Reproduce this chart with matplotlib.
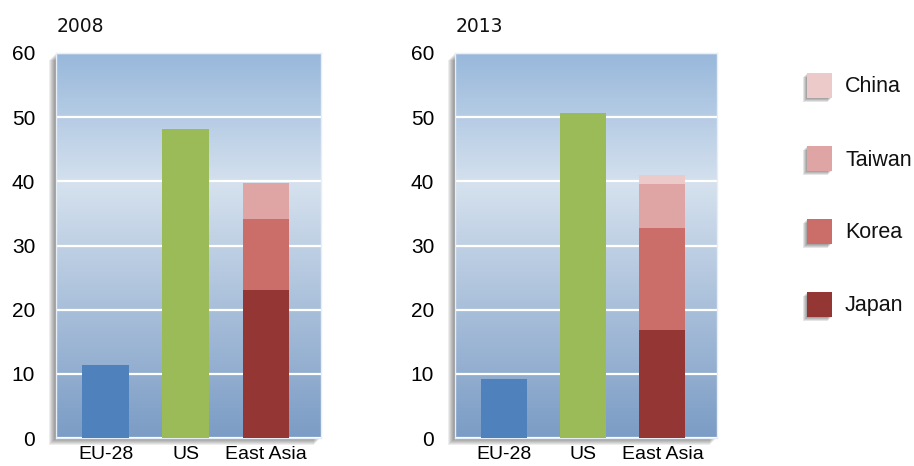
#!/usr/bin/env python3
# -*- coding: utf-8 -*-
import numpy as np
import matplotlib
matplotlib.use('Agg')
import matplotlib.pyplot as plt
from matplotlib.colors import LinearSegmentedColormap
from matplotlib.patches import Rectangle

#!----------------------------------------------------------------------
#!	DATA
#!----------------------------------------------------------------------
years = ['2008', '2013']
categories = ['EU-28', 'US', 'East Asia']
eu28 = [11.4, 9.2]
us = [48.1, 50.6]
japan = [23.0, 16.8]
korea = [11.1, 15.9]
taiwan = [5.6, 6.9]
china = [0.0, 1.4]

asia_names = ['Japan', 'Korea', 'Taiwan', 'China']
asia_vals = [japan, korea, taiwan, china]
asia_cols = ['#943634', '#cb6e69', '#dfa5a5', '#edcaca']
eu_col = '#4f81bd'
us_col = '#9bbb59'

yticks = [0, 10, 20, 30, 40, 50, 60]

W, H = 914, 466
# axes boxes in pixels: left, bottom(from top), right
boxes = [(56, 438, 321), (455, 438, 717)]
top_px = 53

#!----------------------------------------------------------------------
#!	PLOT
#!----------------------------------------------------------------------
fig = plt.figure(figsize=(W/100, H/100), dpi=100)
fig.patch.set_facecolor('white')

bg = LinearSegmentedColormap.from_list('bg', [(0.0, '#7b9cc5'), (0.66, '#d5e1ee'), (1.0, '#98b8db')])
grad = np.linspace(0, 1, 256).reshape(-1, 1)

for i, (x0, y0, x1) in enumerate(boxes):
	rect = [x0/W, (H - y0)/H, (x1 - x0)/W, (y0 - top_px)/H]

	# soft drop shadow
	for k in range(7):
		off = 1 + k
		fig.patches.append(Rectangle(((x0 - off)/W, (H - y0 - off)/H), (x1 - x0)/W, (y0 - top_px)/H,
			transform=fig.transFigure, facecolor='black', edgecolor='none', alpha=0.07, zorder=0))

	ax = fig.add_axes(rect, zorder=2)
	ax.imshow(grad, cmap=bg, origin='lower', aspect='auto', extent=[0, 1, 0, 1],
		transform=ax.transAxes, zorder=0)

	x = np.arange(len(categories))
	w = 0.58
	ax.bar(x[0], eu28[i], w, color=eu_col, zorder=3)
	ax.bar(x[1], us[i], w, color=us_col, zorder=3)
	bottom = 0.0
	for vals, col in zip(asia_vals, asia_cols):
		ax.bar(x[2], vals[i], w, bottom=bottom, color=col, zorder=3)
		bottom += vals[i]

	ax.set_xlim(-0.62, 2.69)
	ax.set_ylim(0, 60)
	ax.set_yticks(yticks)
	ax.yaxis.grid(True, color='white', lw=1.6, zorder=1)
	ax.set_axisbelow(True)
	ax.set_xticks(x)
	ax.set_xticklabels(categories, family='Liberation Sans', fontsize=14)
	ax.set_yticklabels([str(t) for t in yticks], family='Liberation Sans', fontsize=15)
	ax.tick_params(axis='y', length=0, pad=15)
	ax.tick_params(axis='x', length=0, pad=6)
	for s in ax.spines.values():
		s.set_color('#e8eef6')
		s.set_linewidth(1.0)

	fig.text((x0 + 1)/W, 1 - 26/H, years[i], fontsize=13.5, family='DejaVu Sans',
		ha='left', va='center', color='#111111')

# legend
leg_names = asia_names[::-1]
leg_cols = asia_cols[::-1]
for j, (nm, col) in enumerate(zip(leg_names, leg_cols)):
	ytop = 73 + j*73
	for k in range(4):
		off = 1 + k
		fig.patches.append(Rectangle(((807 - off)/W, (H - ytop - 25 - off)/H), 25/W, 25/H,
			transform=fig.transFigure, facecolor='black', edgecolor='none', alpha=0.1, zorder=0))
	fig.patches.append(Rectangle((807/W, (H - ytop - 25)/H), 25/W, 25/H,
		transform=fig.transFigure, facecolor=col, edgecolor='none', zorder=1))
	fig.text(845/W, 1 - (ytop + 14)/H, nm, fontsize=15.5, family='Liberation Sans',
		ha='left', va='center', color='#111111')

plt.savefig('out.png', dpi=100)
